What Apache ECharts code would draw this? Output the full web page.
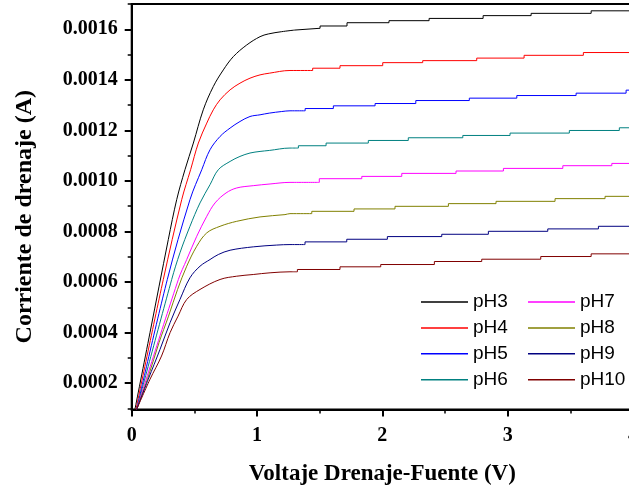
<!DOCTYPE html>
<html>
<head>
<meta charset="utf-8">
<script src="https://cdn.jsdelivr.net/npm/echarts@6/dist/echarts.min.js"></script>
<style>
html,body{margin:0;padding:0;background:#fff;}
#chart{width:629px;height:486px;}
</style>
</head>
<body>
<div id="chart"></div>
<script>
// ---- data ----
var seriesNames = ['pH3','pH4','pH5','pH6','pH7','pH8','pH9','pH10'];
var xTickValues = [0,1,2,3,4];
var yMajorTicks = [0.0002,0.0004,0.0006,0.0008,0.0010,0.0012,0.0014,0.0016];
var yMinorTicks = [0.0001,0.0003,0.0005,0.0007,0.0009,0.0011,0.0013,0.0015,0.0017];

// rising part (smooth) of each curve
var ph3Rise = [[0.026,0.000097],[0.146,0.000400],[0.292,0.000768],[0.359,0.000926],[0.425,0.0010445],[0.492,0.00115],[0.571,0.0012814],[0.651,0.0013734],[0.731,0.0014393],[0.811,0.0014919],[0.918,0.001538],[1.024,0.0015708],[1.090,0.0015815],[1.197,0.0015906],[1.303,0.001597]];
var ph4Rise = [[0.034,0.000097],[0.252,0.00061],[0.399,0.000926],[0.470,0.0010445],[0.532,0.00115],[0.599,0.0012289],[0.651,0.0012814],[0.705,0.0013209],[0.785,0.0013604],[0.864,0.0013868],[0.944,0.0014066],[1.024,0.0014196],[1.098,0.0014263],[1.263,0.001437],[1.444,0.001437]];
var ph5Rise = [[0.04,0.000097],[0.284,0.00061],[0.465,0.000926],[0.559,0.0010445],[0.625,0.0011235],[0.705,0.0011761],[0.785,0.0012092],[0.864,0.0012352],[0.944,0.001255],[1.024,0.0012617],[1.098,0.0012684],[1.197,0.0012747],[1.263,0.0012775],[1.384,0.0012775]];
var ph6Rise = [[0.04,0.000097],[0.319,0.00061],[0.385,0.0007157],[0.465,0.0008207],[0.545,0.0009131],[0.625,0.0009853],[0.691,0.0010445],[0.785,0.0010773],[0.864,0.0010971],[0.944,0.0011105],[1.024,0.0011168],[1.098,0.0011207],[1.263,0.0011302],[1.33,0.0011302]];
var ph7Rise = [[0.04,0.000097],[0.372,0.00061],[0.439,0.0006892],[0.519,0.0007812],[0.599,0.0008602],[0.665,0.0009131],[0.753,0.0009526],[0.838,0.0009723],[0.970,0.0009814],[1.104,0.0009881],[1.263,0.0009944],[1.497,0.0009944]];
var ph8Rise = [[0.04,0.000097],[0.134,0.0002285],[0.218,0.0003604],[0.294,0.0004653],[0.366,0.0005708],[0.439,0.0006628],[0.519,0.0007418],[0.599,0.0007947],[0.705,0.0008207],[0.838,0.0008404],[1.024,0.0008578],[1.223,0.0008669],[1.263,0.0008708],[1.437,0.0008708]];
var ph9Rise = [[0.04,0.000097],[0.132,0.0002155],[0.226,0.0003339],[0.306,0.0004393],[0.385,0.0005312],[0.465,0.000617],[0.545,0.0006628],[0.625,0.0006892],[0.691,0.000709],[0.785,0.000726],[0.970,0.0007394],[1.157,0.0007464],[1.263,0.0007484],[1.383,0.0007484]];
var ph10Rise = [[0.04,0.000097],[0.146,0.0002155],[0.238,0.0003075],[0.306,0.0003998],[0.370,0.0004653],[0.439,0.0005312],[0.545,0.0005708],[0.705,0.0006103],[0.838,0.0006233],[0.970,0.00063],[1.104,0.0006367],[1.263,0.0006407],[1.322,0.0006407]];

// saturation part (quantised staircase) of each curve
var ph3Steps = [[1.303,0.001597],[1.303,0.001604],[1.503,0.001604],[1.503,0.001613],[1.718,0.001613],[1.718,0.001626],[2.053,0.001626],[2.053,0.001634],[2.373,0.001634],[2.373,0.001643],[2.804,0.001643],[2.804,0.001654],[3.187,0.001654],[3.187,0.001663],[3.666,0.001663],[3.666,0.001673],[4.0,0.001673]];
var ph4Steps = [[1.444,0.001437],[1.444,0.001446],[1.662,0.001446],[1.662,0.001456],[2.003,0.001456],[2.003,0.001468],[2.322,0.001468],[2.322,0.001476],[2.753,0.001476],[2.753,0.001486],[3.131,0.001486],[3.131,0.001497],[3.604,0.001497],[3.604,0.001508],[4.0,0.001508]];
var ph5Steps = [[1.384,0.0012775],[1.384,0.0012865],[1.609,0.0012865],[1.609,0.0012972],[1.942,0.0012972],[1.942,0.0013063],[2.267,0.0013063],[2.267,0.0013181],[2.694,0.0013181],[2.694,0.0013276],[3.073,0.0013276],[3.073,0.0013379],[3.546,0.0013379],[3.546,0.0013473],[3.945,0.0013473],[3.945,0.0013592],[4.0,0.0013592]];
var ph6Steps = [[1.33,0.0011302],[1.33,0.0011393],[1.551,0.0011393],[1.551,0.0011499],[1.888,0.0011499],[1.888,0.0011602],[2.207,0.0011602],[2.207,0.0011709],[2.642,0.0011709],[2.642,0.00118],[3.019,0.00118],[3.019,0.0011894],[3.492,0.0011894],[3.492,0.0011997],[3.891,0.0011997],[3.891,0.0012104],[4.0,0.0012104]];
var ph7Steps = [[1.497,0.0009944],[1.497,0.001009],[1.836,0.001009],[1.836,0.0010181],[2.155,0.0010181],[2.155,0.00103],[2.588,0.00103],[2.588,0.0010394],[2.966,0.0010394],[2.966,0.0010497],[3.44,0.0010497],[3.44,0.0010604],[3.831,0.0010604],[3.831,0.0010694],[4.0,0.0010694]];
var ph8Steps = [[1.437,0.0008708],[1.437,0.0008799],[1.774,0.0008799],[1.774,0.0008894],[2.101,0.0008894],[2.101,0.0008997],[2.527,0.0008997],[2.527,0.0009103],[2.907,0.0009103],[2.907,0.0009194],[3.378,0.0009194],[3.378,0.0009301],[3.777,0.0009301],[3.777,0.0009392],[4.0,0.0009392]];
var ph9Steps = [[1.383,0.0007484],[1.383,0.000759],[1.716,0.000759],[1.716,0.0007694],[2.04,0.0007694],[2.04,0.00078],[2.474,0.00078],[2.474,0.0007891],[2.846,0.0007891],[2.846,0.0008009],[3.32,0.0008009],[3.32,0.0008104],[3.724,0.0008104],[3.724,0.0008207],[4.0,0.0008207]];
var ph10Steps = [[1.322,0.0006407],[1.322,0.0006498],[1.662,0.0006498],[1.662,0.0006604],[1.987,0.0006604],[1.987,0.0006695],[2.415,0.0006695],[2.415,0.0006814],[2.793,0.0006814],[2.793,0.0006905],[3.264,0.0006905],[3.264,0.0007011],[3.666,0.0007011],[3.666,0.0007117],[4.0,0.0007117]];

// ---- styles ----
var seriesColors = ['#000000','#ff0000','#0000ff','#008080','#ff00ff','#808000','#000080','#800000'];
var riseData = [ph3Rise, ph4Rise, ph5Rise, ph6Rise, ph7Rise, ph8Rise, ph9Rise, ph10Rise];
var stepData = [ph3Steps, ph4Steps, ph5Steps, ph6Steps, ph7Steps, ph8Steps, ph9Steps, ph10Steps];

var serif = '"Liberation Serif","Times New Roman",serif';
var sans = '"Liberation Sans",Arial,sans-serif';

var chart = echarts.init(document.getElementById('chart'), null, {renderer:'canvas'});

var series = [];
seriesNames.forEach(function(n, i){
  series.push({
    name: n, type: 'line', data: riseData[i], xAxisIndex: 0, yAxisIndex: 0,
    symbol: 'none', showSymbol: false, clip: true, smooth: 0.35,
    color: seriesColors[i], lineStyle: {color: seriesColors[i], width: 1}
  });
});
seriesNames.forEach(function(n, i){
  series.push({
    name: n, type: 'line', data: stepData[i], xAxisIndex: 0, yAxisIndex: 0,
    symbol: 'none', showSymbol: false, clip: true,
    color: seriesColors[i], lineStyle: {color: seriesColors[i], width: 1}
  });
});

function legendCfg(names, left){
  return {
    data: names, orient: 'vertical', left: left, top: 292.5, padding: 0,
    icon: 'path://M0,0L47,0L47,1.5L0,1.5Z',
    itemWidth: 47, itemHeight: 19, itemGap: 6.9,
    textStyle: {fontFamily: sans, fontSize: 19, color: '#000'},
    selectedMode: false
  };
}

var option = {
  animation: false,
  backgroundColor: '#ffffff',
  grid: {left: 131.7, top: 4, width: 501.3, height: 405.5, containLabel: false, outerBoundsMode: 'none',
    show: true, borderColor: '#000', borderWidth: 2, backgroundColor: 'transparent'},
  legend: [legendCfg(seriesNames.slice(0,4), 421), legendCfg(seriesNames.slice(4), 528)],
  xAxis: {
    type: 'value', min: 0, max: 4, interval: 1,
    name: 'Voltaje Drenaje-Fuente (V)', nameLocation: 'middle', nameGap: 53,
    nameTextStyle: {fontFamily: serif, fontWeight: 'bold', fontSize: 23, color: '#000'},
    axisLine: {show: true, onZero: false, lineStyle: {color: '#000', width: 2}},
    axisTick: {show: true, inside: false, length: 7, lineStyle: {color: '#000', width: 2}},
    minorTick: {show: true, splitNumber: 2, length: 4, lineStyle: {color: '#000', width: 1.5}},
    axisLabel: {margin: 16, fontFamily: serif, fontWeight: 'bold', fontSize: 20, color: '#000',
      formatter: function(v){ return xTickValues.indexOf(v) >= 0 ? String(v) : ''; }},
    splitLine: {show: false}, minorSplitLine: {show: false}
  },
  yAxis: [{
    type: 'value', min: 0.000096, max: 0.0017, position: 'left',
    axisLine: {show: true, onZero: false, lineStyle: {color: '#000', width: 2}},
    axisTick: {show: true, inside: false, length: 7, customValues: yMajorTicks, lineStyle: {color: '#000', width: 2}},
    axisLabel: {margin: 14, customValues: yMajorTicks, fontFamily: serif, fontWeight: 'bold', fontSize: 20, color: '#000',
      formatter: function(v){ return Number(v).toFixed(4); }},
    splitLine: {show: false}
  },{
    type: 'value', min: 0.000096, max: 0.0017, position: 'left', offset: 0,
    axisLine: {show: false},
    axisTick: {show: true, inside: false, length: 4, customValues: yMinorTicks, lineStyle: {color: '#000', width: 1.5}},
    axisLabel: {show: false},
    splitLine: {show: false}
  }],
  graphic: [{
    type: 'text', x: 24.5, y: 216.7, rotation: Math.PI/2,
    style: {text: 'Corriente de drenaje (A)', font: 'bold 24px ' + serif, fill: '#000',
      textAlign: 'center', textVerticalAlign: 'middle', align: 'center', verticalAlign: 'middle'}
  }],
  series: series
};
chart.setOption(option);
</script>
</body>
</html>
